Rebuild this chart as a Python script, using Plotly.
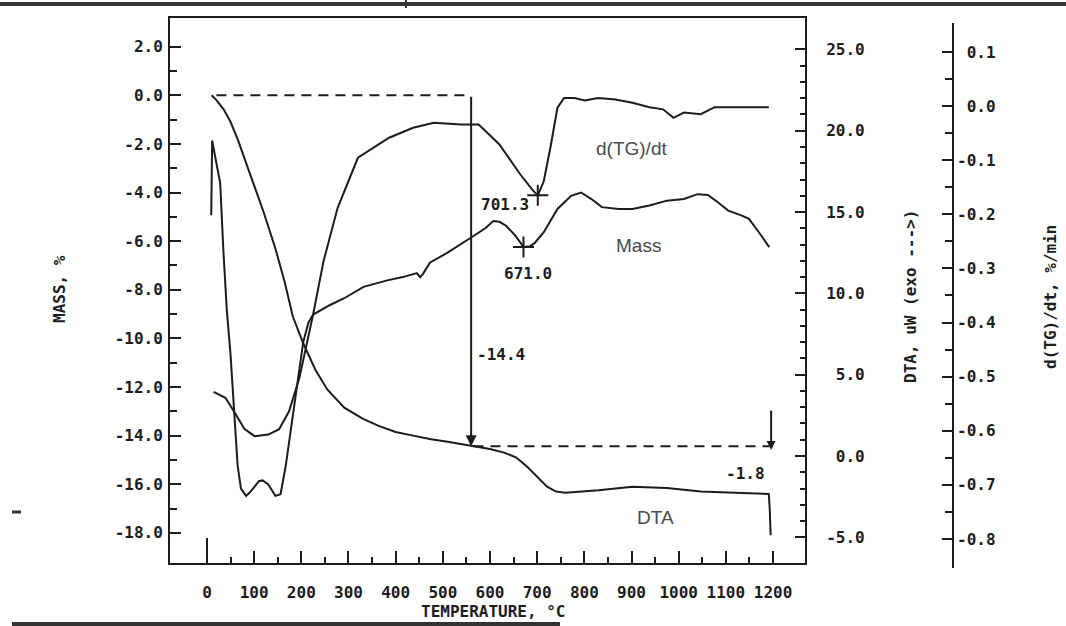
import plotly.graph_objects as go

# ---------------- data ----------------
mass_T = [10, 20, 36, 50, 65, 80, 101, 120, 145, 165, 182, 195, 204, 230, 255, 291, 330, 364,
          400, 437, 475, 510, 540, 568, 600, 630, 656, 680, 700, 721, 740, 760, 830, 902, 975,
          1047, 1119, 1191, 1193, 1195]
mass_val = [0.0, -0.2, -0.6, -1.1, -1.8, -2.6, -3.7, -4.8, -6.3, -7.7, -9.1, -9.8, -10.2, -11.3,
            -12.1, -12.85, -13.3, -13.6, -13.85, -14.0, -14.15, -14.25, -14.35, -14.45, -14.55,
            -14.7, -14.9, -15.3, -15.7, -16.1, -16.3, -16.35, -16.25, -16.1, -16.15, -16.3,
            -16.35, -16.4, -17.0, -18.1]

dta_T = [9, 11, 20, 28, 35, 42, 50, 57, 65, 72, 83, 92, 101, 110, 118, 130, 145, 156, 167, 182,
         196, 204, 215, 225, 262, 291, 332, 382, 415, 445, 452, 458, 473, 510, 561, 590, 607,
         620, 634, 655, 671, 685, 695, 714, 743, 772, 793, 815, 837, 873, 902, 938, 975, 1011,
         1040, 1062, 1083, 1105, 1134, 1149, 1170, 1192]
dta_val = [14.8, 19.4, 18.0, 16.8, 12.5, 9.0, 6.2, 2.9, -0.6, -2.0, -2.45, -2.2, -1.9, -1.55,
           -1.5, -1.75, -2.45, -2.35, -0.6, 2.5, 5.5, 7.0, 8.2, 8.7, 9.3, 9.7, 10.4, 10.8, 11.0,
           11.25, 11.0, 11.2, 11.9, 12.5, 13.45, 14.0, 14.45, 14.4, 14.16, 13.5, 12.85, 12.9,
           13.1, 13.76, 15.19, 16.0, 16.2, 15.8, 15.3, 15.19, 15.19, 15.4, 15.7, 15.8, 16.1,
           16.05, 15.6, 15.09, 14.78, 14.58, 13.76, 12.84]

dtg_T = [14, 39, 57, 79.5, 101, 130, 153, 174, 196, 211, 225, 247, 277, 320, 342, 386, 437, 481,
         539, 576, 620, 664, 690, 701.3, 714, 728, 743, 757, 779, 801, 829, 866, 902, 938, 967,
         989, 1011, 1047, 1076, 1120, 1155, 1191]
dtg_val = [-0.528, -0.539, -0.564, -0.597, -0.610, -0.607, -0.597, -0.564, -0.502, -0.44, -0.385,
           -0.287, -0.188, -0.0955, -0.083, -0.0585, -0.040, -0.031, -0.034, -0.034, -0.071,
           -0.126, -0.155, -0.165, -0.139, -0.077, -0.003, 0.015, 0.015, 0.0105, 0.015, 0.012,
           0.006, -0.002, -0.006, -0.0216, -0.012, -0.015, -0.002, -0.002, -0.003, -0.002]

x_ticks = list(range(0, 1201, 100))
mass_ticks = list(range(2, -19, -2))
dta_ticks = [-5, 0, 5, 10, 15, 20, 25]
dtg_ticks = [0.1, 0.0, -0.1, -0.2, -0.3, -0.4, -0.5, -0.6, -0.7, -0.8]

# step markers (TG evaluation)
step_start_T, step_mid_T, step_end_T = 10, 560, 1196
step_level0, step_level1 = 0.0, -14.44
step2_top = -12.9
peak_dta_T, peak_dta_val = 671.0, 12.85
peak_dtg_T, peak_dtg_val = 701.3, -0.165

# ---------------- figure ----------------
W, H = 1066, 626
INK = "#1c1c1c"
MONO = dict(family="DejaVu Sans Mono", size=16, color=INK, weight="bold")
SANS = dict(family="Liberation Sans", size=19, color="#4a4a4a")

def px(x):
    return x / W

def py(y):
    return 1 - y / H

fig = go.Figure()
line = dict(color=INK, width=2)
fig.add_trace(go.Scatter(x=mass_T, y=mass_val, mode="lines", line=line, yaxis="y"))
fig.add_trace(go.Scatter(x=dta_T, y=dta_val, mode="lines", line=line, yaxis="y2"))
fig.add_trace(go.Scatter(x=dtg_T, y=dtg_val, mode="lines", line=line, yaxis="y3"))
# dashed evaluation lines
fig.add_trace(go.Scatter(x=[step_start_T + 10, step_mid_T - 3], y=[step_level0, step_level0],
                         mode="lines", line=dict(color=INK, width=2, dash="10px,7px"), yaxis="y"))
fig.add_trace(go.Scatter(x=[step_mid_T + 5, step_end_T - 4], y=[step_level1, step_level1],
                         mode="lines", line=dict(color=INK, width=2, dash="10px,7px"), yaxis="y"))
# peak markers
fig.add_trace(go.Scatter(x=[peak_dta_T], y=[peak_dta_val], mode="markers", yaxis="y2",
                         marker=dict(symbol="cross-thin", size=15, line=dict(color=INK, width=2))))
fig.add_trace(go.Scatter(x=[peak_dtg_T], y=[peak_dtg_val], mode="markers", yaxis="y3",
                         marker=dict(symbol="cross-thin", size=15, line=dict(color=INK, width=2))))

xl, xr = 170, 805
yt, yb = 18, 563

fig.update_layout(
    width=W, height=H, margin=dict(l=0, r=0, t=0, b=0),
    paper_bgcolor="white", plot_bgcolor="white", showlegend=False,
    xaxis=dict(domain=[px(xl), px(xr)], range=[-78.4, 1267.8], showgrid=False, zeroline=False,
               showline=True, linecolor=INK, linewidth=2, mirror=True,
               tickmode="array", tickvals=x_ticks, ticktext=[str(v) for v in x_ticks],
               ticks="inside", ticklen=12, tickwidth=2, tickcolor=INK,
               minor=dict(tickmode="array", tickvals=list(range(50, 1200, 100)), ticks="inside",
                          ticklen=6, tickwidth=2, tickcolor=INK),
               tickfont=MONO, ticklabelstandoff=14, automargin=False, fixedrange=True),
    yaxis=dict(domain=[py(yb), py(yt)], range=[-19.24, 3.18], showgrid=False, zeroline=False,
               showline=True, linecolor=INK, linewidth=2,
               tickmode="array", tickvals=mass_ticks, ticktext=[f"{v:.1f}" for v in mass_ticks],
               ticks="inside", ticklen=11, tickwidth=2, tickcolor=INK,
               minor=dict(tickmode="array", tickvals=list(range(-17, 2, 2)), ticks="inside",
                          ticklen=7, tickwidth=2, tickcolor=INK),
               tickfont=MONO, ticklabelstandoff=2, automargin=False),
    yaxis2=dict(overlaying="y", side="right", anchor="x", range=[-6.578, 26.93],
                showgrid=False, zeroline=False, showline=True, linecolor=INK, linewidth=2,
                tickmode="array", tickvals=dta_ticks,
                ticktext=[("\u00a0" + f"{v:.1f}") if 0 <= v < 10 else f"{v:.1f}" for v in dta_ticks],
                ticks="inside", ticklen=10, tickwidth=2, tickcolor=INK,
                minor=dict(tickmode="array", tickvals=[v for v in range(-4, 25) if v % 5],
                           ticks="inside", ticklen=5, tickwidth=2, tickcolor=INK),
                tickfont=MONO, ticklabelstandoff=16, automargin=False),
    yaxis3=dict(overlaying="y", side="right", anchor="free", position=px(953),
                range=[-0.8444, 0.1628], showgrid=False, zeroline=False, showline=False,
                tickmode="array", tickvals=dtg_ticks,
                ticktext=[("\u00a0" + f"{abs(v):.1f}") if v >= 0 else f"{v:.1f}" for v in dtg_ticks],
                ticks="inside", ticklen=11, tickwidth=2, tickcolor=INK,
                minor=dict(tickmode="array",
                           tickvals=[0.05, -0.05, -0.15, -0.25, -0.35, -0.45, -0.55, -0.65, -0.75],
                           ticks="inside", ticklen=8, tickwidth=2, tickcolor=INK),
                tickfont=MONO, ticklabelstandoff=3, automargin=False),
)

# vertical step arrows (data coordinates on mass axis)
fig.add_annotation(x=step_mid_T, y=step_level1, ax=step_mid_T, ay=step_level0, xref="x", yref="y",
                   axref="x", ayref="y", showarrow=True, arrowhead=2, arrowsize=1.1,
                   arrowwidth=2, arrowcolor=INK, text="")
fig.add_annotation(x=step_end_T, y=step_level1 - 0.15, ax=step_end_T, ay=step2_top, xref="x",
                   yref="y", axref="x", ayref="y", showarrow=True, arrowhead=2, arrowsize=0.9,
                   arrowwidth=2, arrowcolor=INK, text="")
# tall zero tick on the x axis
fig.add_shape(type="line", xref="x", yref="paper", x0=0, x1=0, y0=py(yb), y1=py(538),
              line=dict(color=INK, width=2))
# DTG axis spine
fig.add_shape(type="line", xref="paper", yref="paper", x0=px(953), x1=px(953), y0=py(568),
              y1=py(23), line=dict(color=INK, width=2))
# scan border lines / marks
fig.add_shape(type="line", xref="paper", yref="paper", x0=0, x1=1, y0=py(4), y1=py(4),
              line=dict(color="#333333", width=4))
fig.add_shape(type="line", xref="paper", yref="paper", x0=px(12), x1=px(560), y0=py(624),
              y1=py(624), line=dict(color="#333333", width=4))
fig.add_shape(type="line", xref="paper", yref="paper", x0=px(406), x1=px(406), y0=py(0),
              y1=py(8), line=dict(color="#333333", width=2))
fig.add_shape(type="line", xref="paper", yref="paper", x0=px(12), x1=px(21), y0=py(512),
              y1=py(512), line=dict(color="#333333", width=3))

# numeric annotations
def note(text, x, y, font, xanchor="left"):
    fig.add_annotation(x=x, y=y, xref="x", yref="y", text=text, showarrow=False,
                       xanchor=xanchor, yanchor="middle", font=font)

note("-14.4", 568, -10.68, MONO)
note("701.3", 577, -4.5, MONO)
note("671.0", 625, -7.35, MONO)
note("-1.8", 1097, -15.55, MONO)
note("d(TG)/dt", 820, -2.2, SANS)
note("Mass", 863, -6.18, SANS)
note("DTA", 907, -17.35, SANS)

# axis titles
def title(text, x, y, angle):
    fig.add_annotation(x=px(x), y=py(y), xref="paper", yref="paper", text=text, showarrow=False,
                       textangle=angle, xanchor="center", yanchor="middle", font=MONO)

title("MASS, %", 60, 289, -90)
title("DTA, uW (exo ---&gt;)", 910, 297, -90)
title("d(TG)/dt, %/min", 1050, 297, -90)
title("TEMPERATURE, °C", 493, 611, 0)

fig.write_html("out.html")
